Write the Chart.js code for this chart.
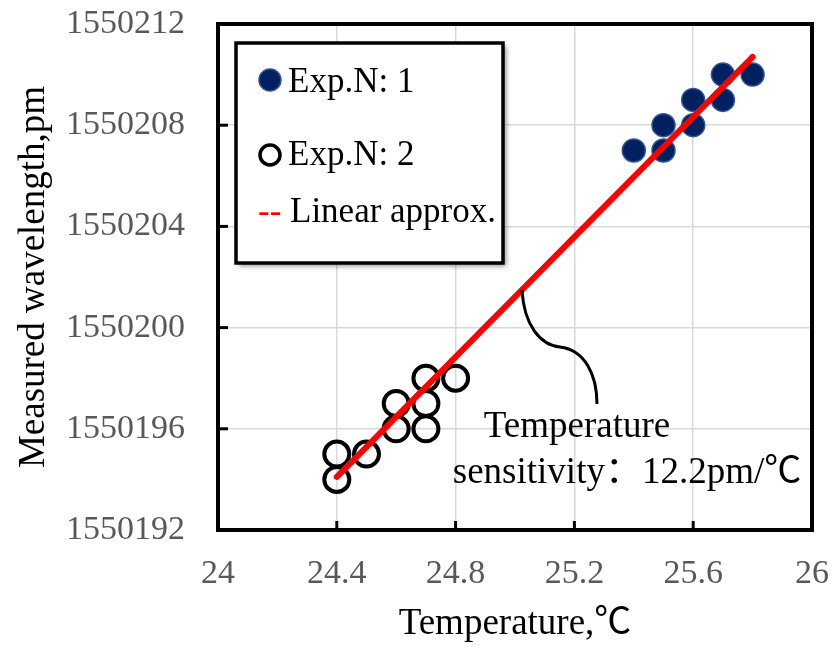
<!DOCTYPE html>
<html>
<head>
<meta charset="utf-8">
<script src="https://cdn.jsdelivr.net/npm/chart.js@4.4.1/dist/chart.umd.min.js"></script>
<style>
  body { margin: 0; background: #fff; }
  #wrap { width: 837px; height: 651px; }
</style>
</head>
<body>
<div id="wrap"><canvas id="Chart1" width="837" height="651"></canvas></div>
<script>
// Exp.N: 1 (filled)
var exp1X = [25.4, 25.5, 25.5, 25.6, 25.6, 25.7, 25.7, 25.8];
var exp1Y = [1550207, 1550207, 1550208, 1550208, 1550209, 1550209, 1550210, 1550210];
// Exp.N: 2 (hollow)
var exp2X = [24.4, 24.4, 24.5, 24.6, 24.6, 24.7, 24.7, 24.7, 24.8];
var exp2Y = [1550195, 1550194, 1550195, 1550197, 1550196, 1550198, 1550197, 1550196, 1550198];
// linear approximation
var fitX = [24.4, 25.8];
var fitY = [1550194.1, 1550210.7];

var xTicks = [24, 24.4, 24.8, 25.2, 25.6, 26];
var yTicks = [1550192, 1550196, 1550200, 1550204, 1550208, 1550212];

var seriesLabels = ['Exp.N: 1', 'Exp.N: 2', 'Linear approx.'];

var serif = '"Liberation Serif", "Times New Roman", "Noto Sans CJK SC", serif';

function pts(xs, ys) {
    return xs.map(function (x, i) { return {x: x, y: ys[i]}; });
}

var decor = {
    id: 'decor',
    afterDraw: function (chart) {
        var ctx = chart.ctx;
        var a = chart.chartArea;
        var sx = chart.scales.x, sy = chart.scales.y;
        ctx.save();

        // inward tick marks
        ctx.strokeStyle = '#000';
        ctx.lineWidth = 3;
        xTicks.forEach(function (v) {
            var px = sx.getPixelForValue(v);
            ctx.beginPath(); ctx.moveTo(px, a.bottom); ctx.lineTo(px, a.bottom - 9); ctx.stroke();
        });
        yTicks.forEach(function (v) {
            var py = sy.getPixelForValue(v);
            ctx.beginPath(); ctx.moveTo(a.left, py); ctx.lineTo(a.left + 10, py); ctx.stroke();
        });

        // plot frame
        ctx.lineWidth = 4;
        ctx.strokeRect(a.left, a.top, a.right - a.left, a.bottom - a.top);

        // annotation curve
        ctx.lineWidth = 3;
        ctx.beginPath();
        ctx.moveTo(522, 290);
        ctx.bezierCurveTo(524, 325, 540, 345, 560, 347);
        ctx.bezierCurveTo(585, 350, 597, 375, 597, 404);
        ctx.stroke();

        ctx.fillStyle = '#000';
        ctx.font = '37px ' + serif;
        ctx.textAlign = 'center';
        ctx.textBaseline = 'alphabetic';
        ctx.fillText('Temperature', 577, 437);
        ctx.fillText('sensitivity：12.2pm/℃', 627, 483);

        // legend box
        ctx.save();
        ctx.shadowColor = 'rgba(0,0,0,0.45)';
        ctx.shadowBlur = 5;
        ctx.shadowOffsetX = 3;
        ctx.shadowOffsetY = 3;
        ctx.fillStyle = '#fff';
        ctx.fillRect(236, 43, 267, 220);
        ctx.restore();
        ctx.lineWidth = 3.5;
        ctx.strokeStyle = '#000';
        ctx.strokeRect(236, 43, 267, 220);

        var ds = chart.data.datasets;
        ctx.beginPath();
        ctx.arc(270, 80, 11, 0, Math.PI * 2);
        ctx.fillStyle = ds[0].backgroundColor;
        ctx.fill();
        ctx.lineWidth = 1.5;
        ctx.strokeStyle = ds[0].borderColor;
        ctx.stroke();

        ctx.beginPath();
        ctx.arc(270, 155, 10, 0, Math.PI * 2);
        ctx.lineWidth = 3.5;
        ctx.strokeStyle = ds[1].borderColor;
        ctx.stroke();

        ctx.font = '35px ' + serif;
        ctx.textAlign = 'left';
        ctx.fillStyle = '#000';
        ctx.fillText(ds[0].label, 288, 92);
        ctx.fillText(ds[1].label, 288, 165);
        ctx.fillText(ds[2].label, 290, 222);
        ctx.fillStyle = ds[2].borderColor;
        ctx.fillText('--', 258, 222);

        ctx.restore();
    }
};

var ctxS = document.getElementById('Chart1').getContext('2d');
var myChart = new Chart(ctxS, {
    type: 'scatter',
    data: {
        datasets: [{
            label: seriesLabels[0],
            data: pts(exp1X, exp1Y),
            backgroundColor: '#002060',
            borderColor: '#2F5597',
            borderWidth: 1.5,
            pointRadius: 11.5,
            order: 2
        }, {
            label: seriesLabels[1],
            data: pts(exp2X, exp2Y),
            backgroundColor: 'rgba(255,255,255,0)',
            borderColor: '#000',
            borderWidth: 4,
            pointRadius: 12.5,
            order: 3
        }, {
            label: seriesLabels[2],
            data: pts(fitX, fitY),
            showLine: true,
            borderColor: '#FF0000',
            backgroundColor: '#FF0000',
            borderWidth: 6,
            borderCapStyle: 'round',
            pointRadius: 0,
            fill: false,
            order: 1
        }]
    },
    options: {
        responsive: false,
        animation: false,
        events: [],
        layout: { padding: { top: 24, right: 25, left: 0, bottom: 0 } },
        plugins: {
            legend: { display: false },
            tooltip: { enabled: false }
        },
        scales: {
            x: {
                type: 'linear',
                min: 24, max: 26,
                afterBuildTicks: function (s) { s.ticks = xTicks.map(function (v) { return {value: v}; }); },
                afterFit: function (s) { s.height = 121; s.paddingLeft = 0; s.paddingRight = 0; },
                border: { display: false },
                grid: { color: '#D9D9D9', lineWidth: 1.5, drawTicks: false },
                ticks: {
                    padding: 24,
                    color: '#595959',
                    font: { family: serif, size: 34 },
                    callback: function (v) { return String(Math.round(v * 10) / 10); }
                },
                title: {
                    display: true,
                    text: 'Temperature,℃',
                    color: '#000',
                    font: { family: serif, size: 37 },
                    padding: { top: 0, bottom: 5 }
                }
            },
            y: {
                type: 'linear',
                min: 1550192, max: 1550212,
                afterBuildTicks: function (s) { s.ticks = yTicks.map(function (v) { return {value: v}; }); },
                afterFit: function (s) { s.width = 218; s.paddingTop = 0; s.paddingBottom = 0; },
                border: { display: false },
                grid: { color: '#D9D9D9', lineWidth: 1.5, drawTicks: false },
                ticks: {
                    padding: 33,
                    color: '#595959',
                    font: { family: serif, size: 34 },
                    callback: function (v) { return String(v); }
                },
                title: {
                    display: true,
                    text: 'Measured wavelength,pm',
                    color: '#000',
                    font: { family: serif, size: 37 },
                    padding: { top: 12, bottom: 0 }
                }
            }
        }
    },
    plugins: [decor]
});
</script>
</body>
</html>
